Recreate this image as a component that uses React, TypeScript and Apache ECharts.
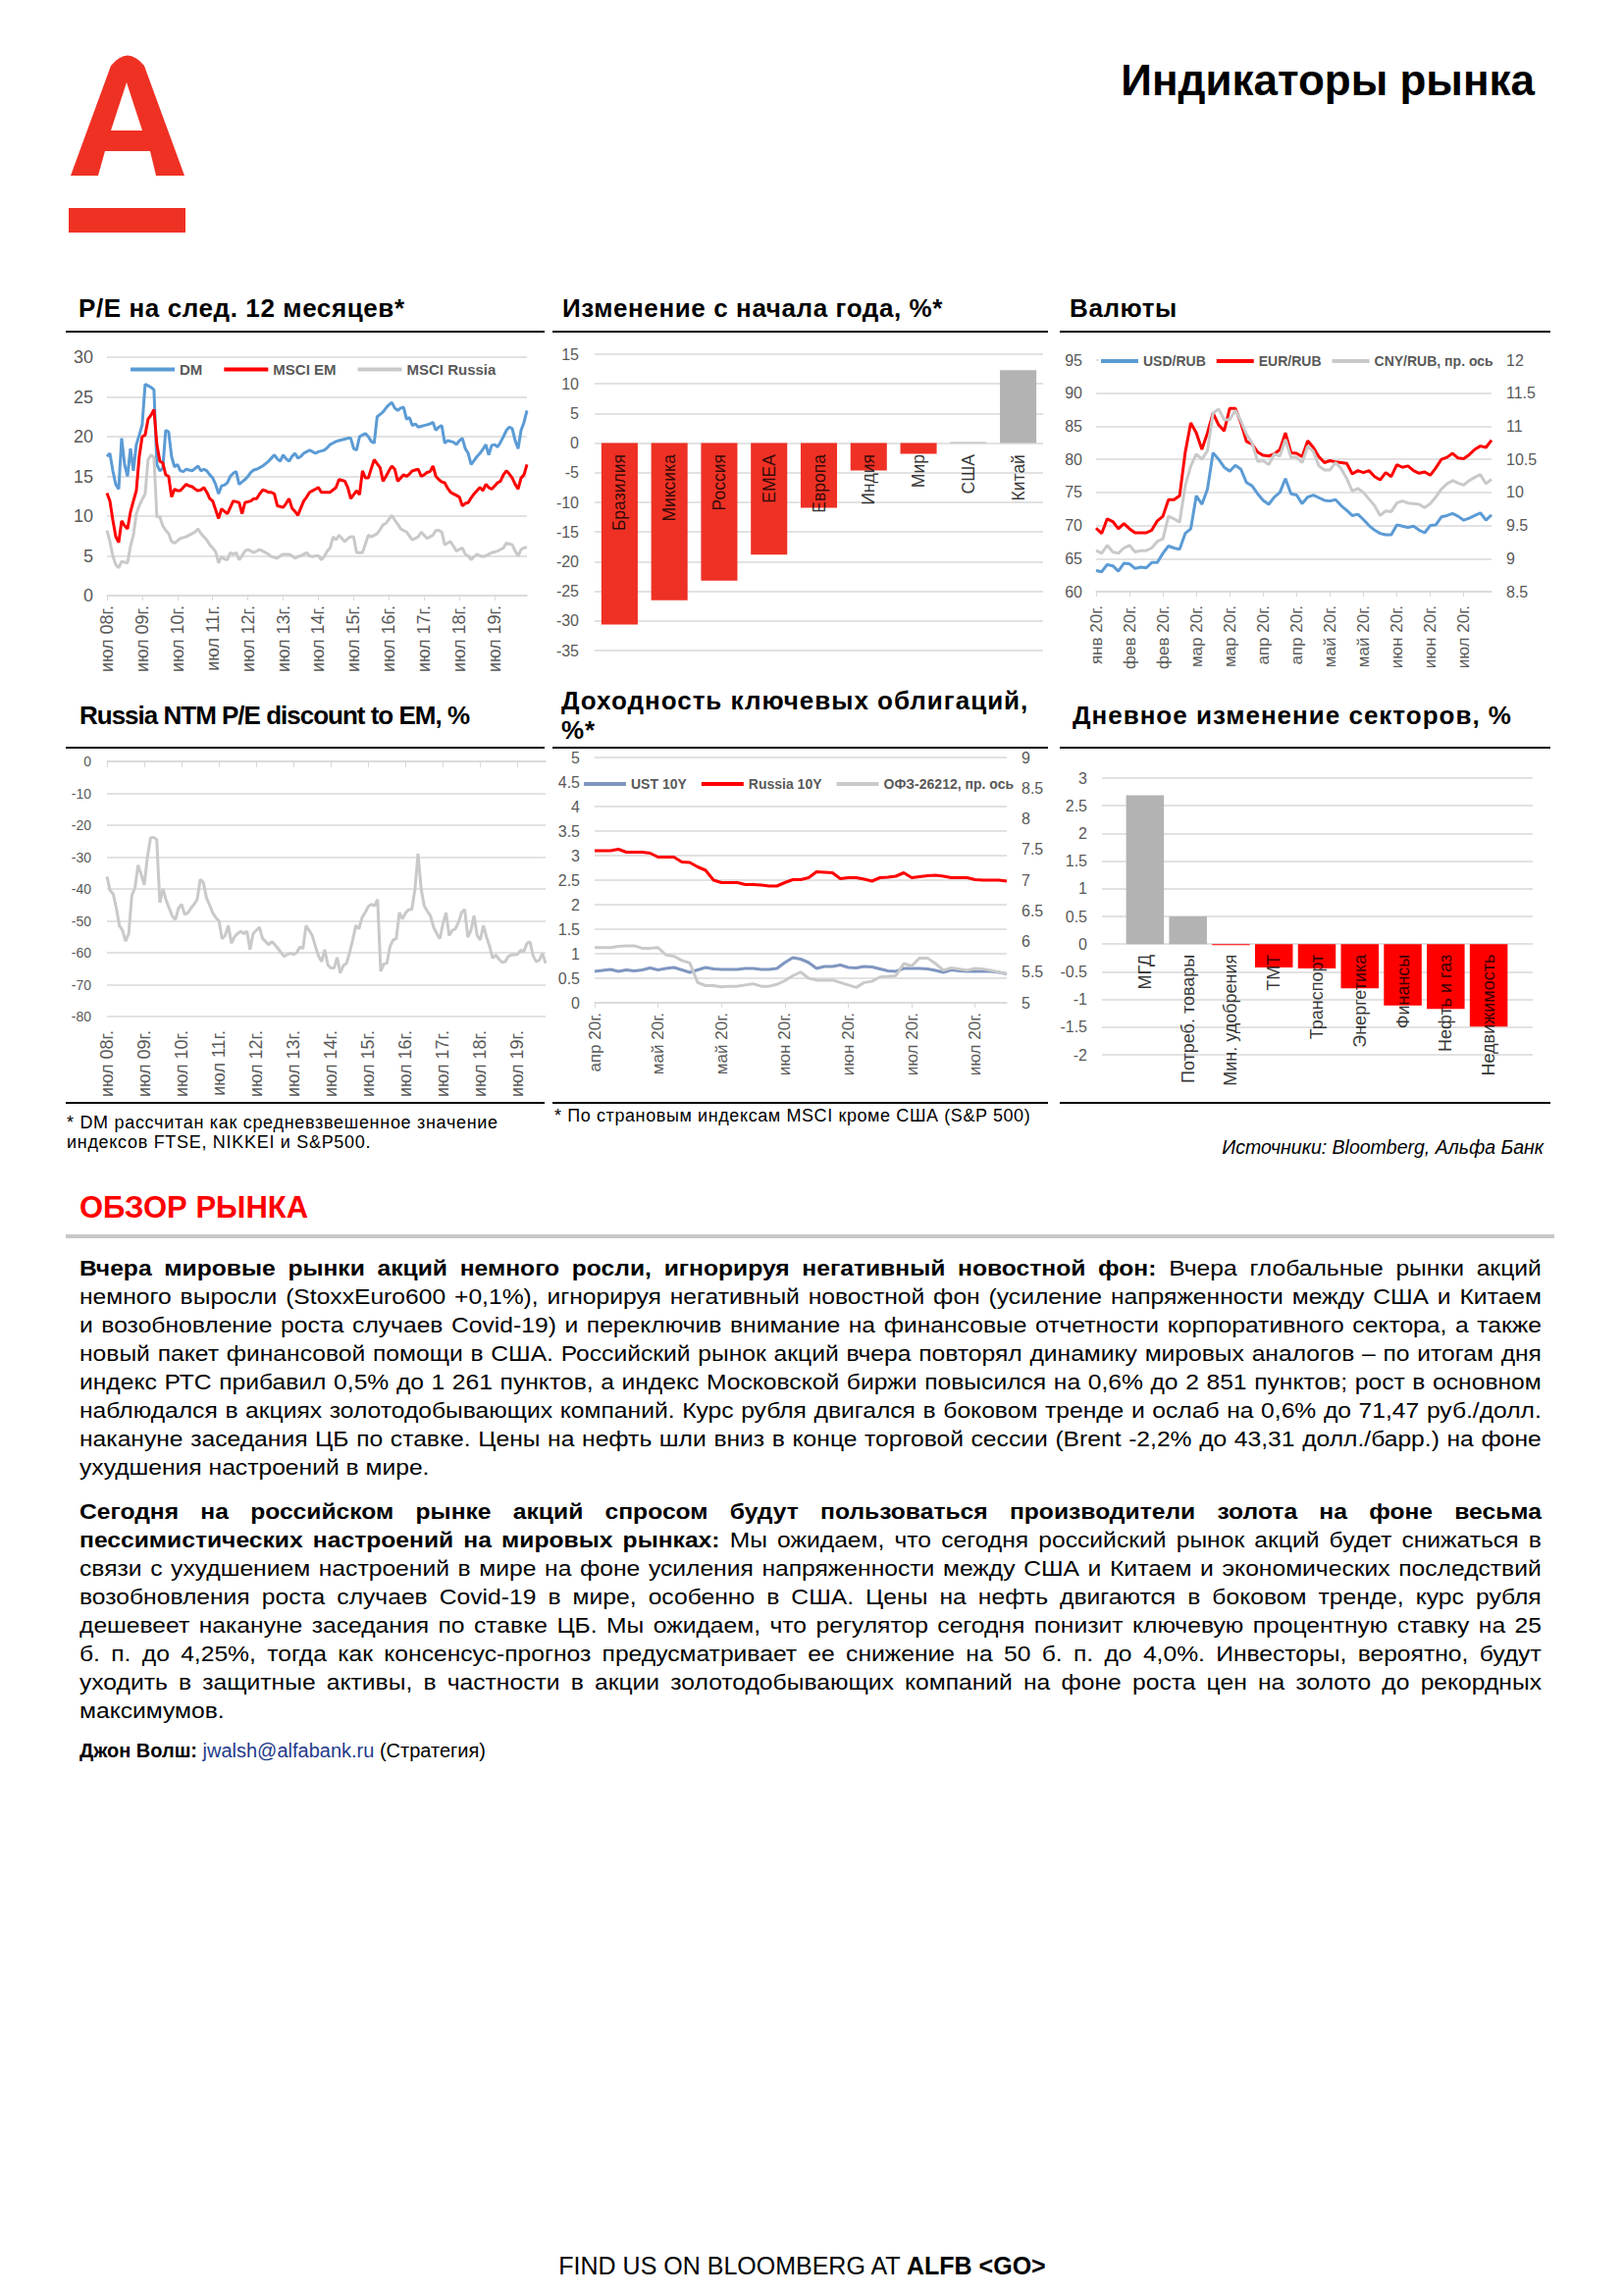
import React, { useEffect, useRef } from 'react';
import * as echarts from 'echarts';

const FONT = '"Liberation Sans", Arial, Helvetica, sans-serif';
const GRID = '#D9D9D9';
const LBL = '#595959';
const RED_BAR = '#EE3124';
const RED = '#FF0000';
const GRAY_BAR = '#B3B3B3';
const BLUE = '#5B9BD5';
const LGRAY = '#C9C9C9';
const UST_BLUE = '#7F96C0';

// ---------- P/E NTM (monthly from Jul 2008) ----------
const peDM = [17.5,17.9,15.7,14.0,13.4,19.8,16.5,15.0,18.5,15.7,19.0,20.2,21.5,26.6,26.4,26.2,25.9,16.5,15.7,16.0,20.8,20.6,17.5,16.2,16.5,15.7,15.6,15.9,15.8,15.7,16.0,16.3,15.7,15.9,15.7,15.2,14.8,14.0,12.8,13.8,13.9,14.2,15.0,15.4,15.6,14.0,14.3,14.6,15.0,15.5,15.8,15.9,16.1,16.3,16.6,16.9,17.3,17.7,17.2,16.9,17.7,17.2,16.9,17.5,17.9,17.3,17.5,17.9,18.1,18.3,18.1,17.9,18.1,18.2,18.3,18.6,19.0,19.2,19.4,19.5,19.6,19.7,19.8,19.8,18.5,18.3,20.0,20.2,20.4,20.0,19.4,19.2,22.5,22.8,23.1,23.6,24.0,24.3,23.6,23.3,23.6,23.7,22.2,22.4,21.4,21.6,21.2,21.3,21.4,21.5,21.6,21.8,20.8,21.2,21.4,19.2,19.5,19.4,19.3,19.0,19.5,19.8,18.5,17.9,16.5,17.0,17.5,17.9,18.4,19.0,17.7,18.9,19.0,18.7,19.3,20.0,20.8,21.2,21.0,19.5,18.5,20.8,21.8,23.3];
const peEM = [12.9,11.9,9.5,7.4,6.7,9.4,8.8,8.4,10.5,11.9,13.2,17.5,20.0,20.2,22.2,22.7,23.4,19.0,16.9,16.7,15.2,15.0,12.4,13.4,13.2,13.2,13.6,14.0,13.8,13.7,13.4,13.2,13.3,13.6,13.0,12.2,11.9,10.8,9.7,10.9,10.6,10.3,11.1,11.9,11.8,11.7,10.3,11.7,11.8,11.9,12.2,12.2,12.8,13.3,13.2,13.0,13.0,12.8,11.3,11.2,11.1,11.6,12.2,11.0,10.6,10.1,11.0,11.9,12.4,13.0,13.2,13.4,13.6,13.0,13.0,13.0,13.0,13.3,13.6,14.6,14.5,14.4,13.6,12.2,12.7,13.2,12.7,15.7,14.8,14.8,16.0,17.1,16.6,16.1,14.4,15.0,15.7,16.3,15.9,14.4,14.8,15.2,15.0,15.3,15.7,15.8,15.9,15.0,15.2,15.5,15.6,16.3,15.0,14.6,14.3,14.2,13.5,13.0,12.8,12.6,12.4,11.3,11.6,11.7,12.3,12.8,13.2,13.6,13.2,14.0,13.6,13.4,13.8,14.2,14.4,15.2,15.7,15.3,14.8,14.0,13.4,14.8,15.2,16.5];
const peRU = [8.2,6.8,5.0,3.9,3.5,4.3,4.2,4.1,6.2,7.6,10.3,11.3,12.1,12.8,17.1,17.7,17.4,9.9,9.9,8.8,8.2,7.8,6.8,6.6,6.9,7.2,7.3,7.4,7.6,7.8,8.0,8.4,7.8,7.4,7.0,6.4,6.0,5.5,4.1,4.9,4.6,4.5,5.4,5.2,5.4,4.5,5.0,5.6,5.8,5.6,5.4,5.6,5.8,5.6,5.4,5.2,4.9,4.8,4.7,5.0,5.2,5.2,5.2,5.0,4.7,4.9,5.0,5.2,5.4,5.0,4.9,5.0,5.0,4.5,4.9,5.6,6.0,7.4,7.0,7.6,7.2,6.8,7.2,7.4,7.4,5.4,5.4,5.4,6.5,7.6,7.4,7.6,7.8,8.3,8.9,9.1,9.6,10.1,9.5,9.0,8.4,8.2,8.0,7.5,7.0,7.2,7.4,8.0,7.6,7.2,7.4,7.6,8.2,8.2,8.0,6.4,6.6,6.8,6.2,5.6,5.8,6.0,5.2,5.0,4.5,4.9,5.2,5.0,4.9,5.0,5.2,5.4,5.5,5.6,5.8,6.0,6.6,6.5,6.4,5.6,5.0,5.8,6.0,6.1];

// ---------- Russia NTM P/E discount to EM (monthly from Jul 2008) ----------
const discount = [-36.1,-40.5,-41.5,-46,-51.5,-53,-56.4,-54,-42,-39.7,-32.5,-35.5,-38.7,-30,-24,-23.8,-24.5,-44.3,-40,-43.5,-46,-48.5,-49.6,-46,-44.8,-48,-47.5,-46,-44.8,-43.3,-37,-38,-42.8,-45,-47.5,-49,-50,-55.6,-54.6,-51.5,-57,-55,-54,-53.3,-54,-53.2,-59,-54,-53,-52,-55.5,-56.5,-57.5,-56.5,-57.5,-58.7,-60,-61.2,-60.5,-60.2,-60.5,-60,-58.2,-58.7,-51.5,-53,-54.6,-58,-61,-62.8,-59,-63.8,-64.8,-64.8,-61.5,-66.4,-64,-63.3,-60,-56,-51.5,-52.5,-49,-47.4,-45.5,-44.8,-45.3,-43.3,-65.8,-63.5,-63.3,-58,-56,-55.6,-47.4,-49.4,-47.5,-46.5,-46.4,-40.2,-29,-40,-45.3,-47,-48.4,-52,-54,-55.6,-51,-47.4,-54.6,-53,-52.5,-50.5,-47.4,-46.4,-55.1,-53,-48.4,-54.6,-56,-51.5,-55,-58,-61.7,-60.7,-62,-63,-62.8,-61.2,-60.7,-60.6,-60.5,-59.2,-59.7,-57,-56.6,-61,-62.8,-62.3,-60.2,-63.3];

// ---------- YTD change ----------
const ytdNames = ['Бразилия', 'Миксика', 'Россия', 'EMEA', 'Европа', 'Индия', 'Мир', 'США', 'Китай'];
const ytdValues = [-30.6, -26.5, -23.2, -18.8, -10.9, -4.6, -1.8, 0.2, 12.3];

// ---------- Currencies (2020) ----------
const fxTickLabels = ['янв 20г.', 'фев 20г.', 'фев 20г.', 'мар 20г.', 'мар 20г.', 'апр 20г.', 'апр 20г.', 'май 20г.', 'май 20г.', 'июн 20г.', 'июн 20г.', 'июл 20г.'];
const usdRub = [63.2,63.0,64.1,63.9,63.1,64.3,64.2,63.5,63.7,63.6,64.4,64.4,65.8,66.9,66.6,66.4,68.8,69.5,74.5,73.2,75.5,81.0,80.0,78.8,78.2,79.1,78.5,76.5,76.0,74.8,73.8,73.2,74.3,75.0,77.1,74.8,74.6,73.3,74.3,74.6,74.2,73.8,73.7,73.9,73.0,72.3,71.5,71.7,70.9,70.0,69.3,68.8,68.6,68.6,70.1,69.9,69.7,69.9,69.3,68.9,70.0,70.1,71.3,71.5,71.8,71.4,70.8,71.1,71.5,71.9,70.8,71.6];
const eurRub = [69.6,68.8,71.0,70.6,69.5,70.3,69.5,68.9,68.9,68.9,69.3,70.7,71.4,73.9,73.9,74.5,81.0,85.5,84.0,81.5,84.0,87.0,85.2,84.3,87.7,87.7,85.5,82.7,82.3,81.1,80.6,80.5,80.8,81.5,84.0,81.0,80.9,80.4,82.8,81.8,80.4,79.5,79.8,79.6,79.5,79.4,77.8,78.3,78.0,78.3,77.4,76.9,78.0,77.4,79.2,78.8,79.0,78.3,77.9,78.1,77.6,78.7,80.0,80.3,80.9,80.2,80.1,80.7,81.5,82.0,81.8,82.9];
const cnyRub = [9.12,9.08,9.20,9.10,9.08,9.16,9.20,9.10,9.12,9.12,9.16,9.26,9.30,9.64,9.60,9.55,10.10,10.40,10.58,10.50,10.63,11.20,11.26,11.10,11.10,11.24,11.08,10.88,10.75,10.47,10.48,10.42,10.58,10.55,10.80,10.53,10.53,10.45,10.70,10.62,10.40,10.34,10.34,10.45,10.36,10.21,10.02,10.06,10.00,9.90,9.80,9.65,9.72,9.71,9.84,9.87,9.84,9.83,9.82,9.77,9.83,9.93,10.05,10.13,10.18,10.14,10.11,10.18,10.23,10.27,10.13,10.20];

// ---------- Bond yields (2020) ----------
const bondTickLabels = ['апр 20г.', 'май 20г.', 'май 20г.', 'июн 20г.', 'июн 20г.', 'июл 20г.', 'июл 20г.'];
const ust10 = [0.64,0.66,0.68,0.64,0.67,0.65,0.67,0.71,0.67,0.70,0.72,0.67,0.62,0.67,0.72,0.69,0.68,0.68,0.68,0.70,0.70,0.68,0.68,0.70,0.82,0.92,0.89,0.82,0.70,0.74,0.74,0.77,0.72,0.71,0.74,0.73,0.69,0.65,0.64,0.70,0.70,0.70,0.69,0.66,0.62,0.67,0.65,0.64,0.64,0.64,0.64,0.62,0.59];
const russia10 = [3.10,3.10,3.10,3.13,3.07,3.07,3.07,3.05,2.97,2.97,2.97,2.87,2.86,2.77,2.70,2.50,2.45,2.45,2.45,2.41,2.41,2.40,2.38,2.38,2.45,2.51,2.51,2.55,2.67,2.66,2.65,2.53,2.55,2.55,2.52,2.48,2.55,2.56,2.58,2.65,2.55,2.57,2.59,2.60,2.58,2.55,2.55,2.55,2.51,2.50,2.50,2.50,2.48];
const ofz26212 = [5.90,5.90,5.90,5.92,5.93,5.93,5.89,5.89,5.90,5.78,5.76,5.69,5.65,5.33,5.28,5.28,5.26,5.27,5.27,5.29,5.31,5.27,5.27,5.30,5.36,5.44,5.50,5.40,5.37,5.37,5.37,5.33,5.29,5.25,5.33,5.35,5.42,5.43,5.44,5.64,5.60,5.73,5.73,5.64,5.53,5.57,5.55,5.53,5.56,5.55,5.53,5.50,5.47];

// ---------- Sector daily change ----------
const sectorNames = ['МГД', 'Потреб. товары', 'Мин. удобрения', 'ТМТ', 'Транспорт', 'Энергетика', 'Финансы', 'Нефть и газ', 'Недвижимость'];
const sectorValues = [2.69, 0.50, -0.02, -0.42, -0.44, -0.80, -1.11, -1.17, -1.49];

const monthNames = ['янв', 'фев', 'мар', 'апр', 'май', 'июн', 'июл', 'авг', 'сен', 'окт', 'ноя', 'дек'];
function monthCats(n: number): string[] {
  const out: string[] = [];
  for (let i = 0; i < n; i++) {
    const m = (6 + i) % 12;
    const y = 2008 + Math.floor((6 + i) / 12);
    out.push(`${monthNames[m]} ${String(y % 100).padStart(2, '0')}г.`);
  }
  return out;
}

const gridOf = (left: number, right: number, top: number, bottom: number) => ({
  left, right, top, bottom, containLabel: false, outerBoundsMode: 'none',
});

const lineSeries = (name: string, data: number[], color: string, extra: any = {}) => ({
  name,
  type: 'line',
  data,
  symbol: 'none',
  showSymbol: false,
  lineStyle: { width: 3, color },
  itemStyle: { color },
  ...extra,
});

const legendBase = (left: number, top: number, itemWidth: number, itemGap: number, fontSize: number, bg = 'transparent') => ({
  left,
  top,
  icon: 'rect',
  itemWidth,
  itemHeight: 4,
  itemGap,
  backgroundColor: bg,
  padding: [3, 2],
  textStyle: { fontSize, fontWeight: 'bold', color: LBL, fontFamily: FONT },
});

const catAxisBase = (data: string[], labelInterval: number, fontSize: number, margin: number, formatter?: any) => ({
  type: 'category',
  data,
  boundaryGap: false,
  axisLine: { show: true, onZero: false, lineStyle: { color: GRID, width: 1.5 } },
  axisTick: { show: true, interval: labelInterval, length: 5, lineStyle: { color: GRID } },
  axisLabel: { interval: labelInterval, rotate: 90, fontSize, color: LBL, margin, fontFamily: FONT, ...(formatter ? { formatter } : {}) },
});

const valAxis = (min: number, max: number, interval: number, fontSize: number, margin: number, extra: any = {}) => ({
  type: 'value',
  min,
  max,
  interval,
  axisLine: { show: false },
  axisTick: { show: false },
  axisLabel: { fontSize, color: LBL, margin, fontFamily: FONT },
  splitLine: { show: true, lineStyle: { color: GRID, width: 1.5 } },
  ...extra,
});

// category names written just below the zero line (Excel "next to axis" labels)
const zeroLabels = (names: string[], fontSize: number, distance: number, extra: any = {}) => ({
  type: 'scatter',
  data: names.map(() => 0),
  symbolSize: 1,
  silent: true,
  itemStyle: { color: 'rgba(0,0,0,0)' },
  z: 5,
  label: {
    show: true,
    position: 'bottom',
    distance,
    rotate: 90,
    align: 'right',
    verticalAlign: 'middle',
    fontSize,
    color: '#000',
    fontFamily: FONT,
    formatter: (p: any) => p.name,
  },
  ...extra,
});

function optPE() {
  const cats = monthCats(peDM.length);
  return {
    animation: false,
    textStyle: { fontFamily: FONT },
    grid: gridOf(49, 23, 19, 93),
    legend: { ...legendBase(71, 21, 45, 22, 15), data: ['DM', 'MSCI EM', 'MSCI Russia'] },
    xAxis: catAxisBase(cats, 11, 18, 10),
    yAxis: valAxis(0, 30, 5, 18, 14),
    series: [
      lineSeries('DM', peDM, BLUE),
      lineSeries('MSCI EM', peEM, RED),
      lineSeries('MSCI Russia', peRU, LGRAY),
    ],
  };
}

function optYTD() {
  return {
    animation: false,
    textStyle: { fontFamily: FONT },
    grid: gridOf(46, 17, 16, 37),
    xAxis: {
      type: 'category',
      data: ytdNames,
      axisLine: { show: false },
      axisTick: { show: false },
      axisLabel: { show: false },
    },
    yAxis: valAxis(-35, 15, 5, 16, 16),
    series: [
      {
        type: 'bar',
        barCategoryGap: '27%',
        data: ytdValues.map((v) => ({ value: v, itemStyle: { color: v < 0 ? RED_BAR : GRAY_BAR } })),
      },
      zeroLabels(ytdNames, 17.5, 11),
    ],
  };
}

function optFX() {
  const cats = usdRub.map((_, i) => String(i));
  const fmt = (_v: string, i: number) => fxTickLabels[Math.round(i / 6)] ?? '';
  return {
    animation: false,
    textStyle: { fontFamily: FONT },
    grid: gridOf(37, 80, 22, 97),
    legend: { ...legendBase(40, 13, 38, 11, 14, '#ffffff'), data: ['USD/RUB', 'EUR/RUB', 'CNY/RUB, пр. ось'] },
    xAxis: catAxisBase(cats, 5, 17, 14, fmt),
    yAxis: [
      valAxis(60, 95, 5, 16, 14),
      valAxis(8.5, 12, 0.5, 16, 15, { position: 'right', splitLine: { show: false } }),
    ],
    series: [
      lineSeries('USD/RUB', usdRub, BLUE),
      lineSeries('EUR/RUB', eurRub, RED),
      lineSeries('CNY/RUB, пр. ось', cnyRub, LGRAY, { yAxisIndex: 1 }),
    ],
  };
}

function optDiscount() {
  const cats = monthCats(discount.length);
  return {
    animation: false,
    textStyle: { fontFamily: FONT },
    grid: gridOf(49, 4, 11, 87),
    xAxis: [
      {
        type: 'category',
        data: cats,
        boundaryGap: false,
        position: 'top',
        axisLine: { show: true, onZero: false, lineStyle: { color: GRID, width: 1.5 } },
        axisTick: { show: true, inside: true, interval: 11, length: 6, lineStyle: { color: GRID } },
        axisLabel: { show: false },
      },
      {
        type: 'category',
        data: cats,
        boundaryGap: false,
        position: 'bottom',
        axisLine: { show: false, onZero: false },
        axisTick: { show: false },
        axisLabel: { interval: 11, rotate: 90, fontSize: 18, color: LBL, margin: 14, fontFamily: FONT },
      },
    ],
    yAxis: valAxis(-80, 0, 10, 14, 16),
    series: [lineSeries('Russia NTM P/E discount to EM', discount, LGRAY, { xAxisIndex: 0 })],
  };
}

function optBonds() {
  const cats = ust10.map((_, i) => String(i));
  const fmt = (_v: string, i: number) => bondTickLabels[Math.round(i / 8)] ?? '';
  return {
    animation: false,
    textStyle: { fontFamily: FONT },
    grid: gridOf(46, 54, 7, 101),
    legend: { ...legendBase(33, 24, 43, 15, 14, '#ffffff'), data: ['UST 10Y', 'Russia 10Y', 'ОФЗ-26212, пр. ось'] },
    xAxis: catAxisBase(cats, 7, 17, 10, fmt),
    yAxis: [
      valAxis(0, 5, 0.5, 16, 15),
      valAxis(5, 9, 0.5, 16, 15, { position: 'right', splitLine: { show: false } }),
    ],
    series: [
      lineSeries('UST 10Y', ust10, UST_BLUE),
      lineSeries('Russia 10Y', russia10, RED),
      lineSeries('ОФЗ-26212, пр. ось', ofz26212, LGRAY, { yAxisIndex: 1 }),
    ],
  };
}

function optSectors() {
  // grid 0: gridlines and value labels (wider plot area); grid 1: category band holding the bars
  return {
    animation: false,
    textStyle: { fontFamily: FONT },
    grid: [gridOf(43, 38, 28, 48), gridOf(65, 61, 28, 48)],
    xAxis: [
      { gridIndex: 0, type: 'value', min: 0, max: 1, show: false },
      {
        gridIndex: 1,
        type: 'category',
        data: sectorNames,
        axisLine: { show: false },
        axisTick: { show: false },
        axisLabel: { show: false },
      },
    ],
    yAxis: [
      valAxis(-2, 3, 0.5, 16, 15, { gridIndex: 0 }),
      valAxis(-2, 3, 0.5, 16, 15, { gridIndex: 1, show: false, splitLine: { show: false } }),
    ],
    series: [
      {
        type: 'bar',
        xAxisIndex: 1,
        yAxisIndex: 1,
        barCategoryGap: '12%',
        data: sectorValues.map((v) => ({ value: v, itemStyle: { color: v < 0 ? RED : GRAY_BAR } })),
      },
      zeroLabels(sectorNames, 18, 10, { xAxisIndex: 1, yAxisIndex: 1 }),
    ],
  };
}

function Chart({ option, left, top, width, height }: { option: any; left: number; top: number; width: number; height: number }) {
  const ref = useRef<HTMLDivElement>(null);
  useEffect(() => {
    const c = echarts.init(ref.current as HTMLDivElement, undefined, { renderer: 'svg' });
    c.setOption(option);
    return () => c.dispose();
  }, []);
  return <div ref={ref} style={{ position: 'absolute', left, top, width, height }} />;
}

type Seg = { t: string; b?: boolean };

const para1: Seg[][] = [
  [{ t: 'Вчера мировые рынки акций немного росли, игнорируя негативный новостной фон:', b: true }, { t: ' Вчера глобальные рынки акций' }],
  [{ t: 'немного выросли (StoxxEuro600 +0,1%), игнорируя негативный новостной фон (усиление напряженности между США и Китаем' }],
  [{ t: 'и возобновление роста случаев Covid-19) и переключив внимание на финансовые отчетности корпоративного сектора, а также' }],
  [{ t: 'новый пакет финансовой помощи в США. Российский рынок акций вчера повторял динамику мировых аналогов – по итогам дня' }],
  [{ t: 'индекс РТС прибавил 0,5% до 1 261 пунктов, а индекс Московской биржи повысился на 0,6% до 2 851 пунктов; рост в основном' }],
  [{ t: 'наблюдался в акциях золотодобывающих компаний. Курс рубля двигался в боковом тренде и ослаб на 0,6% до 71,47 руб./долл.' }],
  [{ t: 'накануне заседания ЦБ по ставке. Цены на нефть шли вниз в конце торговой сессии (Brent -2,2% до 43,31 долл./барр.) на фоне' }],
  [{ t: 'ухудшения настроений в мире.' }],
];

const para2: Seg[][] = [
  [{ t: 'Сегодня на российском рынке акций спросом будут пользоваться производители золота на фоне весьма', b: true }],
  [{ t: 'пессимистических настроений на мировых рынках:', b: true }, { t: ' Мы ожидаем, что сегодня российский рынок акций будет снижаться в' }],
  [{ t: 'связи с ухудшением настроений в мире на фоне усиления напряженности между США и Китаем и экономических последствий' }],
  [{ t: 'возобновления роста случаев Covid-19 в мире, особенно в США. Цены на нефть двигаются в боковом тренде, курс рубля' }],
  [{ t: 'дешевеет накануне заседания по ставке ЦБ. Мы ожидаем, что регулятор сегодня понизит ключевую процентную ставку на 25' }],
  [{ t: 'б. п. до 4,25%, тогда как консенсус-прогноз предусматривает ее снижение на 50 б. п. до 4,0%. Инвесторы, вероятно, будут' }],
  [{ t: 'уходить в защитные активы, в частности в акции золотодобывающих компаний на фоне роста цен на золото до рекордных' }],
  [{ t: 'максимумов.' }],
];

const SX = 1.12; // the source text is set slightly wider than Arial

function Para({ lines, top }: { lines: Seg[][]; top: number }) {
  return (
    <div
      style={{
        position: 'absolute', left: 81, top, width: 1490 / SX, fontSize: 22, lineHeight: '29px',
        fontFamily: FONT, color: '#000', transform: `scaleX(${SX})`, transformOrigin: '0 0',
      }}
    >
      {lines.map((segs, li) => {
        const last = li === lines.length - 1;
        if (last) {
          return (
            <div key={li} style={{ height: 29, whiteSpace: 'nowrap' }}>
              {segs.map((s, i) => (
                <span key={i} style={{ fontWeight: s.b ? 'bold' : 'normal' }}>{s.t}</span>
              ))}
            </div>
          );
        }
        const words: { w: string; b?: boolean }[] = [];
        segs.forEach((s) => s.t.split(' ').filter(Boolean).forEach((w) => words.push({ w, b: s.b })));
        return (
          <div key={li} style={{ display: 'flex', justifyContent: 'space-between', height: 29, whiteSpace: 'nowrap' }}>
            {words.map((w, i) => (
              <span key={i} style={{ fontWeight: w.b ? 'bold' : 'normal' }}>{w.w + (i < words.length - 1 ? ' ' : '')}</span>
            ))}
          </div>
        );
      })}
    </div>
  );
}

const Rule = ({ x1, x2, y, h = 2, color = '#000' }: { x1: number; x2: number; y: number; h?: number; color?: string }) => (
  <div style={{ position: 'absolute', left: x1, top: y, width: x2 - x1, height: h, background: color }} />
);

const Title = ({ x, y, text, ls = 0.6 }: { x: number; y: number; text: string; ls?: number }) => (
  <div style={{ position: 'absolute', left: x, top: y, fontFamily: FONT, fontWeight: 'bold', fontSize: 26, lineHeight: '30px', letterSpacing: ls, color: '#000', whiteSpace: 'nowrap' }}>{text}</div>
);

export default function App() {
  return (
    <div style={{ position: 'absolute', left: 0, top: 0, width: 1655, height: 2340, background: '#fff', fontFamily: FONT, overflow: 'hidden' }}>
      {/* Logo */}
      <svg style={{ position: 'absolute', left: 0, top: 0 }} width={240} height={260}>
        <path
          fillRule="evenodd"
          fill="#EF3124"
          d="M72 179 L113 67 Q130 46 147 67 L188 179 L159 179 L153 154 L107 154 L100 179 Z M113 133 L129 84 L145 133 Z"
        />
        <rect x={70} y={212} width={119} height={25} fill="#EF3124" />
      </svg>
      <div style={{ position: 'absolute', right: 91, top: 60, fontSize: 44, lineHeight: '44px', fontWeight: 'bold', color: '#000', whiteSpace: 'nowrap' }}>Индикаторы рынка</div>

      {/* Row 1 titles */}
      <Title x={80} y={299} text="P/E на след. 12 месяцев*" />
      <Title x={573} y={299} text="Изменение с начала года, %*" />
      <Title x={1090} y={299} text="Валюты" />
      <Rule x1={67} x2={555} y={337} />
      <Rule x1={563} x2={1068} y={337} />
      <Rule x1={1080} x2={1580} y={337} />

      <Chart option={optPE()} left={60} top={345} width={500} height={355} />
      <Chart option={optYTD()} left={560} top={345} width={520} height={355} />
      <Chart option={optFX()} left={1080} top={345} width={520} height={355} />

      {/* Row 2 titles */}
      <Title x={81} y={714} text="Russia NTM P/E discount to EM, %" ls={-1} />
      <div style={{ position: 'absolute', left: 572, top: 699, fontWeight: 'bold', fontSize: 26, lineHeight: '30px', letterSpacing: 1, color: '#000' }}>
        <div style={{ whiteSpace: 'nowrap' }}>Доходность ключевых облигаций,</div>
        <div style={{ whiteSpace: 'nowrap' }}>%*</div>
      </div>
      <Title x={1093} y={714} text="Дневное изменение секторов, %" ls={1} />
      <Rule x1={67} x2={555} y={761} />
      <Rule x1={563} x2={1068} y={761} />
      <Rule x1={1080} x2={1580} y={761} />

      <Chart option={optDiscount()} left={60} top={765} width={500} height={358} />
      <Chart option={optBonds()} left={560} top={765} width={520} height={358} />
      <Chart option={optSectors()} left={1080} top={765} width={520} height={358} />

      <Rule x1={67} x2={555} y={1123} />
      <Rule x1={563} x2={1068} y={1123} />
      <Rule x1={1080} x2={1580} y={1123} />

      {/* Footnotes */}
      <div style={{ position: 'absolute', left: 68, top: 1134, fontSize: 18, lineHeight: '20px', letterSpacing: 0.7, color: '#000' }}>
        <div style={{ whiteSpace: 'nowrap' }}>* DM рассчитан как средневзвешенное значение</div>
        <div style={{ whiteSpace: 'nowrap' }}>индексов FTSE, NIKKEI и S&amp;P500.</div>
      </div>
      <div style={{ position: 'absolute', left: 565, top: 1127, fontSize: 18, lineHeight: '20px', letterSpacing: 0.6, color: '#000', whiteSpace: 'nowrap' }}>
        * По страновым индексам MSCI кроме США (S&amp;P 500)
      </div>
      <div style={{ position: 'absolute', right: 82, top: 1158, fontSize: 19.5, lineHeight: '22px', fontStyle: 'italic', color: '#000', whiteSpace: 'nowrap' }}>
        Источники: Bloomberg, Альфа Банк
      </div>

      {/* Market review */}
      <div style={{ position: 'absolute', left: 81, top: 1213, fontSize: 31, lineHeight: '36px', fontWeight: 'bold', color: '#FF0000', whiteSpace: 'nowrap' }}>ОБЗОР РЫНКА</div>
      <Rule x1={67} x2={1584} y={1258} h={4} color="#C8C8C8" />
      <Para lines={para1} top={1278} />
      <Para lines={para2} top={1526} />
      <div style={{ position: 'absolute', left: 81, top: 1772, fontSize: 20, lineHeight: '24px', color: '#000', whiteSpace: 'nowrap' }}>
        <span style={{ fontWeight: 'bold' }}>Джон Волш:</span>{' '}
        <span style={{ color: '#1F3A8A' }}>jwalsh@alfabank.ru</span> (Стратегия)
      </div>

      {/* Footer */}
      <div style={{ position: 'absolute', left: 0, width: 1635, top: 2295, fontSize: 25, lineHeight: '28px', textAlign: 'center', color: '#000', whiteSpace: 'nowrap' }}>
        FIND US ON BLOOMBERG AT <span style={{ fontWeight: 'bold' }}>ALFB &lt;GO&gt;</span>
      </div>
    </div>
  );
}
